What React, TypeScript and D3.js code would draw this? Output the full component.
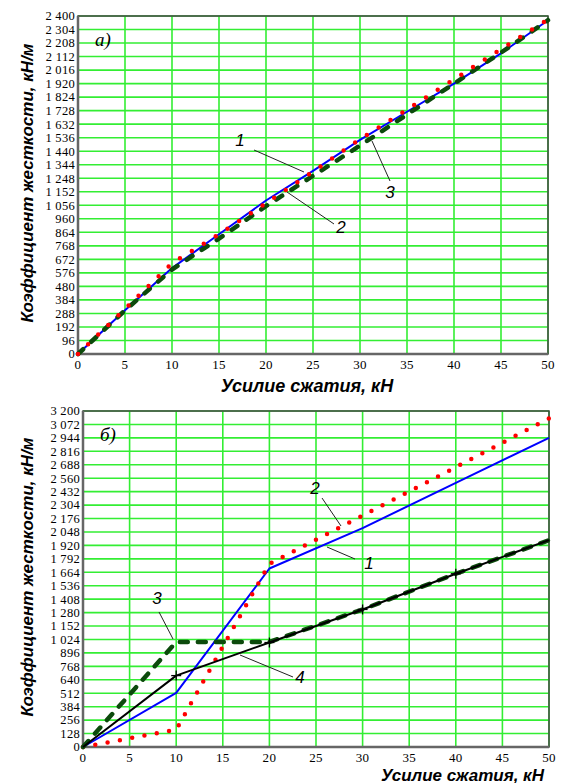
import React from "react"
import * as d3 from "d3"

// подписи оси X (обе панели)
const xTickValues = [0, 5, 10, 15, 20, 25, 30, 35, 40, 45, 50]

// панель а)
const forceA = [0, 5, 10, 15, 20, 25, 30, 35, 40, 45, 50]
const curve1A = [0, 310, 610, 850, 1090, 1300, 1520, 1720, 1920, 2135, 2370]
const curve2A = [0, 320, 645, 850, 1070, 1295, 1525, 1735, 1950, 2165, 2375]
const curve3A = [0, 310, 600, 820, 1050, 1265, 1480, 1700, 1920, 2140, 2370]
const yTicksA = [0, 96, 192, 288, 384, 480, 576, 672, 768, 864, 960, 1056, 1152, 1248, 1344, 1440,
  1536, 1632, 1728, 1824, 1920, 2016, 2112, 2208, 2304, 2400]

// панель б)
const forceB = [0, 10, 20, 30, 40, 50]
const curve1B = [0, 515, 1700, 2085, 2515, 2945]
const curve2B = [0, 165, 1745, 2205, 2665, 3130]
const curve3B = [0, 1000, 1000, 1310, 1650, 1970]
const curve4B = [0, 680, 995, 1310, 1650, 1970]
const markersB = [10, 20, 30, 40]
const yTicksB = [0, 128, 256, 384, 512, 640, 768, 896, 1024, 1152, 1280, 1408, 1536, 1664, 1792, 1920,
  2048, 2176, 2304, 2432, 2560, 2688, 2816, 2944, 3072, 3200]

const fmt = d3.formatLocale({ decimal: ".", thousands: " ", grouping: [3], currency: ["", ""] }).format(",d")

const GRID = "#33ee33"
const BLUE = "#0000ff"
const RED = "#ff0000"
const DKGREEN = "#0c4a0c"
const SANS = "Liberation Sans, Arial, sans-serif"
const SERIF = "Liberation Serif, Times New Roman, serif"

function Panel(props) {
  const { left, right, top, bottom, yTicks, series, markers, letter, titleEnd } = props
  const x = d3.scaleLinear().domain([0, 50]).range([left, right])
  const y = d3.scaleLinear().domain([0, yTicks[yTicks.length - 1]]).range([bottom, top])
  const line = d3.line().x(d => x(d[0])).y(d => y(d[1]))

  return (
    <g>
      {yTicks.map(t => (
        <line key={"h" + t} x1={left} x2={right} y1={y(t)} y2={y(t)} stroke={GRID} strokeWidth={1.6} />
      ))}
      {xTickValues.map(t => (
        <line key={"v" + t} x1={x(t)} x2={x(t)} y1={top} y2={bottom} stroke={GRID} strokeWidth={1.6} />
      ))}
      <rect x={left} y={top} width={right - left} height={bottom - top} fill="none" stroke="#444" strokeWidth={1.5} />
      <line x1={left} x2={left} y1={top} y2={bottom} stroke="#666" strokeWidth={2.5} />
      <line x1={left} x2={right} y1={bottom} y2={bottom} stroke="#666" strokeWidth={2.5} />

      {series.map((s, i) => (
        <path key={i} d={line(s.xs.map((v, j) => [v, s.ys[j]]))} fill="none" stroke={s.color}
          strokeWidth={s.width} strokeDasharray={s.dash} strokeLinecap={s.cap || "butt"} strokeLinejoin="round" />
      ))}
      {markers && markers.xs.map(v => {
        const cx = x(v), cy = y(markers.ys[markers.src.indexOf(v)])
        return (
          <g key={"m" + v} stroke="#000" strokeWidth={1.3}>
            <line x1={cx - 5} x2={cx + 5} y1={cy} y2={cy} />
            <line x1={cx} x2={cx} y1={cy - 5} y2={cy + 5} />
          </g>
        )
      })}

      {yTicks.map(t => (
        <text key={"yl" + t} x={left - 3} y={y(t)} dy="0.35em" textAnchor="end" fontFamily={SERIF}
          fontSize={12.5} letterSpacing={0.3}>{fmt(t)}</text>
      ))}
      {xTickValues.map(t => (
        <text key={"xl" + t} x={x(t)} y={bottom + 15} textAnchor="middle" fontFamily={SERIF}
          fontSize={13} letterSpacing={0.3}>{t}</text>
      ))}

      <text x={left + 17} y={top + 30} fontFamily={SERIF} fontStyle="italic" fontSize={19}>{letter}</text>

      <text transform={`translate(33,${(top + bottom) / 2 - 2}) rotate(-90)`} textAnchor="middle"
        fontFamily={SANS} fontStyle="italic" fontWeight="bold" fontSize={17}>Коэффициент жесткости, кН/м</text>
      {titleEnd ? (
        <text x={titleEnd} y={bottom + 34} textAnchor="end" fontFamily={SANS} fontStyle="italic"
          fontWeight="bold" fontSize={17}>Усилие сжатия, кН</text>
      ) : (
        <text x={(left + right) / 2 - 6} y={bottom + 38} textAnchor="middle" fontFamily={SANS} fontStyle="italic"
          fontWeight="bold" fontSize={18}>Усилие сжатия, кН</text>
      )}
    </g>
  )
}

function Callout({ label, tx, ty, x1, y1, x2, y2 }) {
  return (
    <g>
      <line x1={x1} y1={y1} x2={x2} y2={y2} stroke="#222" strokeWidth={1} />
      <text x={tx} y={ty} textAnchor="middle" fontFamily={SANS} fontStyle="italic" fontSize={17}>{label}</text>
    </g>
  )
}

export default function App() {
  const seriesA = [
    { xs: forceA, ys: curve1A, color: BLUE, width: 2 },
    { xs: forceA, ys: curve3A, color: DKGREEN, width: 4.5, dash: "7 11", cap: "round" },
    { xs: forceA, ys: curve2A, color: RED, width: 4.5, dash: "0 14", cap: "round" },
  ]
  const seriesB = [
    { xs: forceB, ys: curve1B, color: BLUE, width: 2 },
    { xs: forceB, ys: curve2B, color: RED, width: 4.5, dash: "0 12.5", cap: "round" },
    { xs: forceB, ys: curve3B, color: DKGREEN, width: 4.5, dash: "8 10", cap: "round" },
    { xs: forceB, ys: curve4B, color: "#000", width: 2 },
  ]
  return (
    <svg width={563} height={783} style={{ position: "absolute", left: 0, top: 0, background: "#fff" }}>
      <Panel left={78} right={548} top={16} bottom={354} yTicks={yTicksA} series={seriesA} letter="а)" />
      <Panel left={83} right={549} top={411} bottom={747} yTicks={yTicksB} series={seriesB} letter="б)"
        markers={{ xs: markersB, src: forceB, ys: curve4B }} titleEnd={544} />

      <Callout label="1" tx={240} ty={146} x1={254} y1={150} x2={304} y2={172} />
      <Callout label="2" tx={341} ty={233} x1={287} y1={192} x2={334} y2={224} />
      <Callout label="3" tx={390} ty={198} x1={372} y1={141} x2={390} y2={181} />

      <Callout label="2" tx={315} ty={494} x1={322} y1={498} x2={341} y2={526} />
      <Callout label="1" tx={369} ty={569} x1={327} y1={547} x2={355} y2={559} />
      <Callout label="3" tx={157} ty={604} x1={159} y1={612} x2={173} y2={639} />
      <Callout label="4" tx={300} ty={683} x1={240} y1={655} x2={293} y2={677} />
    </svg>
  )
}
